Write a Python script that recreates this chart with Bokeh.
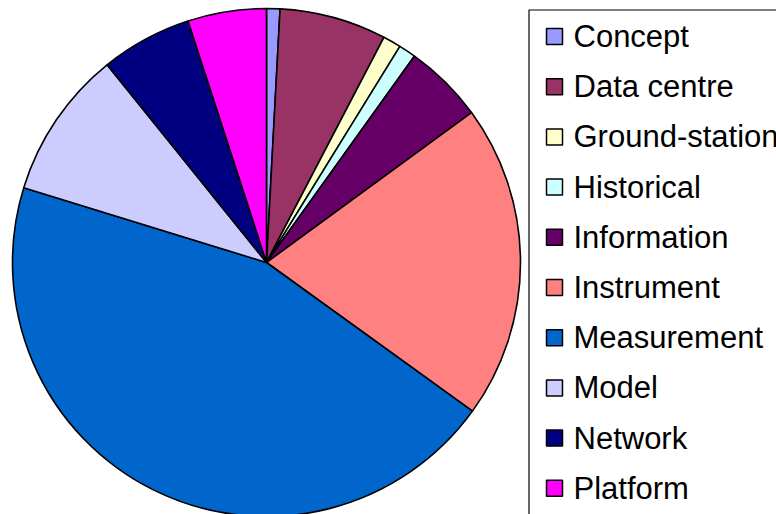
import math
from bokeh.plotting import figure
from bokeh.models import Range1d, ColumnDataSource
from bokeh.core.properties import value
from bokeh.embed import file_html
from bokeh.resources import INLINE

categories = ["Concept", "Data centre", "Ground-station", "Historical", "Information",
              "Instrument", "Measurement", "Model", "Network", "Platform"]
shares = [0.85, 6.8, 1.15, 1.1, 5.05, 20.0, 44.8, 9.45, 5.8, 5.0]
colors = ["#9999FF", "#993366", "#FFFFCC", "#CCFFFF", "#660066",
          "#FF8080", "#0066CC", "#CCCCFF", "#000080", "#FF00FF"]

W, H = 776, 514
p = figure(width=W, height=H, output_backend="svg", toolbar_location=None,
           x_range=Range1d(0, W), y_range=Range1d(0, H),
           min_border=0, x_axis_type=None, y_axis_type=None)
p.grid.visible = False
p.outline_line_color = None
p.background_fill_color = "white"
p.border_fill_color = "white"

# pie geometry (data units == pixels)
cx, cy, r = 266, 252, 254
total = sum(shares)
starts, ends = [], []
cum = 0.0
for s in shares:
    a0 = math.pi / 2 - 2 * math.pi * cum / total
    cum += s
    a1 = math.pi / 2 - 2 * math.pi * cum / total
    starts.append(a0)
    ends.append(a1)

src = ColumnDataSource(dict(start=starts, end=ends, color=colors, cat=categories))
p.wedge(x=cx, y=cy, radius=r, start_angle="start", end_angle="end", direction="clock",
        fill_color="color", line_color="black", line_width=1.6, source=src)

# legend box
p.quad(left=528.5, right=W + 40, top=H - 9.5, bottom=-30,
       fill_color=None, line_color="black", line_width=1.2)

row0, step = H - 36, 50.2
ly = [row0 - i * step for i in range(len(categories))]
lsrc = ColumnDataSource(dict(y=ly, color=colors, cat=categories))
p.rect(x=554, y="y", width=16, height=16, fill_color="color", line_color="black",
       line_width=1.5, source=lsrc)
p.text(x=573, y="y", text="cat", text_font=value("Liberation Sans"), text_font_size="31px",
       text_baseline="middle", text_align="left", text_color="black", source=lsrc)

open("out.html", "w").write(file_html(p, INLINE))
